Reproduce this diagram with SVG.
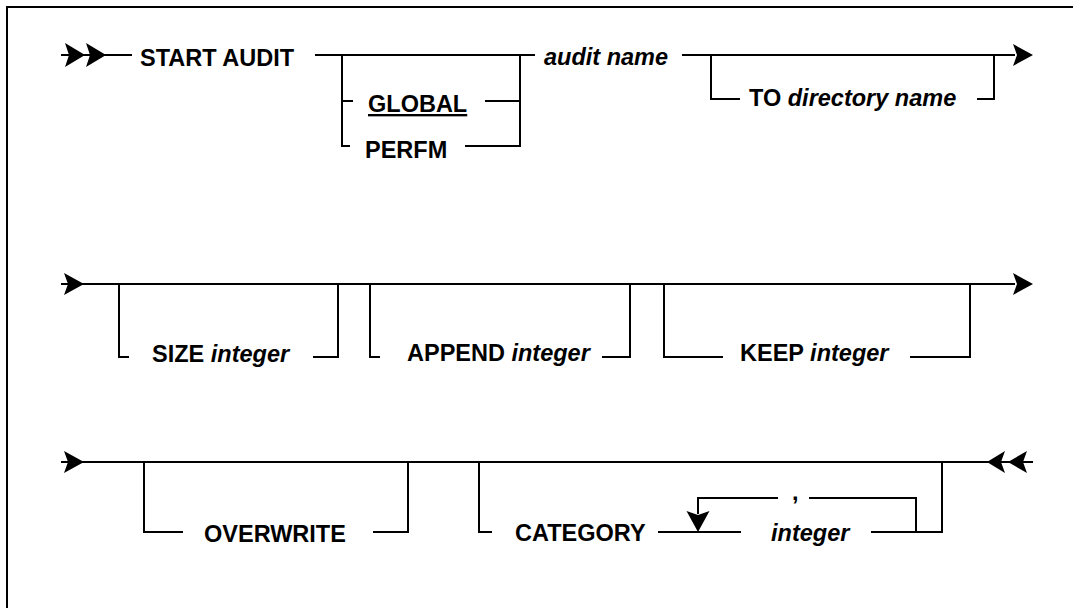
<svg xmlns="http://www.w3.org/2000/svg" width="1073" height="608" viewBox="0 0 1073 608">
<style>
.t{font-family:"Liberation Sans",Arial,Helvetica,sans-serif;font-weight:bold;font-size:23.5px;fill:#000}
.i{font-style:italic}
.c path{fill:none;stroke:#000;stroke-width:2}
.c polygon{fill:#000;stroke:none}
</style>
<rect x="0" y="0" width="1073" height="608" fill="#fff"/>
<rect x="7" y="7" width="1090" height="630" fill="none" stroke="#000" stroke-width="2"/>
<g id="connectors" class="c">
<!-- row 1 -->
<path d="M61,55 H132"/>
<polygon points="65,43 85,55 65,67 69,55"/>
<polygon points="86,43 106,55 86,67 90,55"/>
<path d="M315,55 H535"/>
<path d="M342,55 V146 H350 M342,101 H353"/>
<path d="M520,55 V146 H465 M520,101 H485"/>
<path d="M682,55 H1015"/>
<polygon points="1013,44 1033,55 1013,66 1017,55"/>
<path d="M711,55 V99 H740 M994,55 V99 H977"/>
<!-- row 2 -->
<path d="M61,284 H1015"/>
<polygon points="64,273 84,284 64,295 68,284"/>
<polygon points="1013,273 1033,284 1013,295 1017,284"/>
<path d="M119,284 V357 H129 M338,284 V357 H313"/>
<path d="M370,284 V357 H380 M630,284 V357 H602"/>
<path d="M664,284 V357 H723 M970,284 V357 H910"/>
<!-- row 3 -->
<path d="M61,462 H1033"/>
<polygon points="64,451 84,462 64,473 68,462"/>
<polygon points="1005,451 987,462 1005,473 1001,462"/>
<polygon points="1027,451 1008,462 1027,473 1023,462"/>
<path d="M144,462 V532 H183 M408,462 V532 H373"/>
<path d="M479,462 V532 H492 M942,462 V532 H871"/>
<path d="M658,532 H741"/>
<path d="M916,532 V498 H809 M778,498 H698 V514"/>
<polygon points="686.5,511 698,532 709.5,511 698,515"/>
</g>
<g id="start-audit"><text class="t" x="140" y="66">START AUDIT</text></g>
<g id="global"><text class="t" x="368" y="112" text-decoration="underline">GLOBAL</text></g>
<g id="perfm"><text class="t" x="365" y="158">PERFM</text></g>
<g id="audit-name"><text class="t i" x="544" y="65">audit name</text></g>
<g id="to-directory"><text class="t" x="749" y="106">TO <tspan class="i">directory name</tspan></text></g>
<g id="size"><text class="t" x="152" y="362">SIZE <tspan class="i">integer</tspan></text></g>
<g id="append"><text class="t" x="407" y="361">APPEND <tspan class="i">integer</tspan></text></g>
<g id="keep"><text class="t" x="740" y="361">KEEP <tspan class="i">integer</tspan></text></g>
<g id="overwrite"><text class="t" x="204" y="542">OVERWRITE</text></g>
<g id="category"><text class="t" x="515" y="541">CATEGORY</text></g>
<g id="integer"><text class="t i" x="771" y="541">integer</text></g>
<g id="comma"><text class="t" x="792" y="500">,</text></g>
</svg>
